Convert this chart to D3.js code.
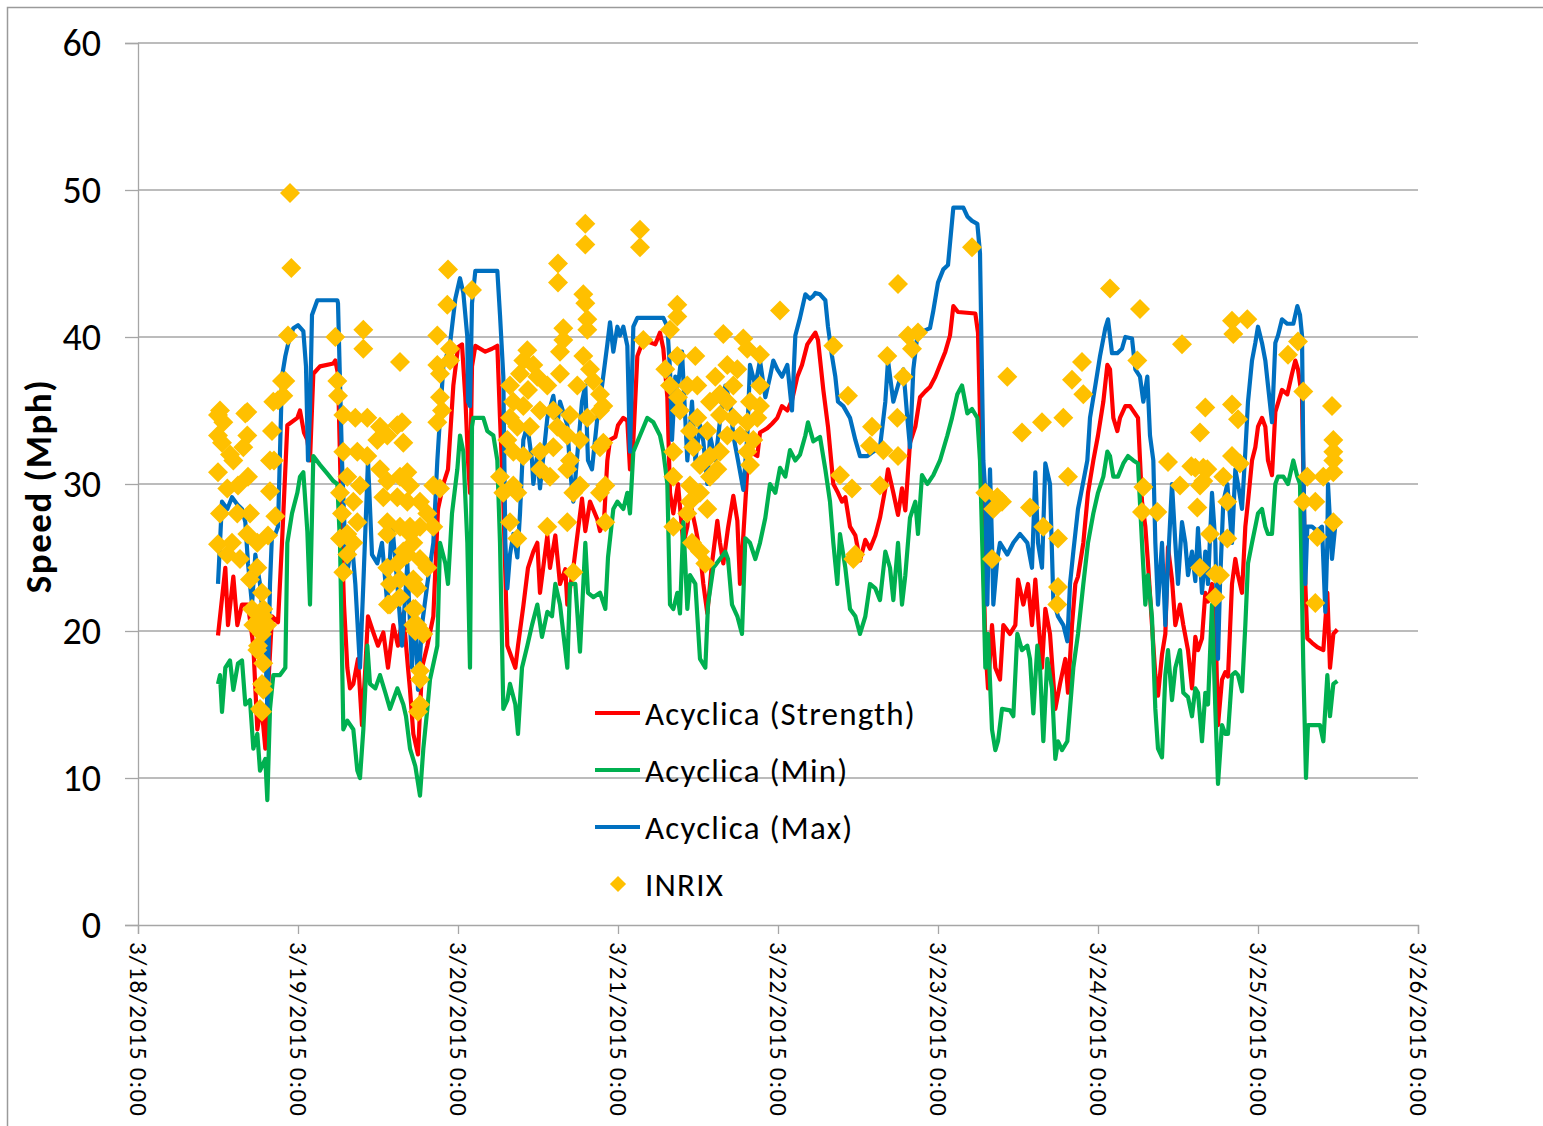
<!DOCTYPE html>
<html>
<head>
<meta charset="utf-8">
<script src="https://cdn.jsdelivr.net/npm/d3@7"></script>
<style>
  body { margin: 0; background: #fff; }
  svg { font-family: Carlito, Calibri, Lato, "Open Sans", sans-serif; }
</style>
</head>
<body>
<div id="main"></div>
<script>
// time values are hours after 3/18/2015 12:00
var seriesNames = ["Acyclica (Strength)", "Acyclica (Min)", "Acyclica (Max)", "INRIX"];
var seriesColors = ["#FF0000", "#00B050", "#0070C0", "#FFC000"];
var yTicks = [0, 10, 20, 30, 40, 50, 60];
var tickLabels = ["3/18/2015 0:00", "3/19/2015 0:00", "3/20/2015 0:00", "3/21/2015 0:00",
  "3/22/2015 0:00", "3/23/2015 0:00", "3/24/2015 0:00", "3/25/2015 0:00", "3/26/2015 0:00"];

var strength = [[0,19.7],[1.1,24.3],[1.5,20.4],[2.3,23.7],[2.9,20.4],[3.6,21.8],[4.5,21.8],[5.3,19],[5.9,13.3],[6.5,15],[7.1,12],[7.5,16],[8.1,21],[9.0,20.6],[9.6,26],[10.4,34],[11.9,34.5],[12.3,35],[12.9,33.5],[13.4,33],[13.8,31.6],[14.3,37.5],[15.3,38],[17.3,38.2],[17.6,38.4],[18.0,37.5],[18.6,26],[18.9,21.8],[19.4,17.5],[19.8,16.1],[20.3,16.4],[21.0,18.1],[21.6,13.6],[22.1,17.5],[22.5,21],[23.3,19.9],[24.0,19],[24.8,19.9],[25.5,17.5],[26.3,20.4],[27.0,19],[27.8,21.2],[28.5,17.5],[28.8,16],[29.3,13],[30.0,11.6],[30.6,17.5],[31.4,19],[32.3,21],[33.0,28.3],[33.8,30],[34.5,31],[35.3,36.7],[36.0,39.3],[36.6,39.5],[37.1,35.9],[37.5,31.6],[37.8,29.4],[38.1,38],[38.6,39.4],[40.1,39],[41.1,39.2],[41.9,39.4],[42.3,34.5],[42.8,28.8],[43.4,19],[43.8,18.5],[44.6,17.5],[45.0,19],[45.8,21.7],[46.5,24.3],[47.3,25.4],[47.9,26],[48.3,22.6],[49.4,26.5],[49.8,24.3],[50.6,26.5],[51.3,23.2],[52.1,24.2],[52.4,21.8],[53.3,24.3],[53.9,26.5],[54.6,29],[55.1,26.8],[55.8,28.8],[56.9,27.6],[57.3,26.8],[57.9,27.5],[58.4,31.6],[58.8,33],[59.6,33.2],[60.0,34],[60.8,34.5],[61.4,34.3],[61.8,31],[62.3,33],[62.9,38.7],[63.8,39.8],[65.6,39.5],[66.3,40.3],[66.8,39.2],[67.4,35.9],[67.8,29.4],[68.3,28],[69.0,30],[69.8,25.9],[70.4,27.1],[70.8,28.8],[71.6,27.1],[72.3,25.4],[72.8,23.2],[73.4,21.2],[74.1,24.6],[74.9,27.5],[75.3,26],[75.8,24.6],[76.5,27],[77.3,29.2],[77.9,27.5],[78.3,23.2],[78.8,26.5],[79.4,31],[79.8,32.2],[80.9,31.9],[81.3,33.5],[82.4,33.8],[83.1,34.1],[83.9,34.5],[84.6,35.3],[85.4,35],[86.1,35.7],[86.9,37.3],[87.6,38.1],[88.4,39.5],[89.3,40.1],[89.6,40.3],[90.0,39.8],[90.8,36.4],[91.5,33.9],[92.3,30],[93.0,29.4],[93.6,28.8],[94.1,29.1],[94.8,27.1],[95.6,26.5],[96.3,24.8],[97.1,26.2],[97.8,25.6],[98.6,26.5],[99.3,27.7],[100.1,29.7],[100.5,31],[101.3,29.4],[102.0,27.9],[102.6,29.7],[103.1,28.2],[103.8,32.8],[104.6,33.9],[105.3,35.9],[106.1,36.3],[106.8,36.6],[107.6,37.3],[108.3,38.1],[109.1,39],[109.8,40.1],[110.3,42.1],[111.0,41.7],[113.6,41.6],[114.0,40.3],[114.6,29],[115.1,19],[115.5,16.1],[116.1,20.4],[116.6,17.5],[117.3,16.7],[117.8,20.4],[118.8,19.8],[119.6,20.4],[120.0,23.5],[120.8,21.8],[121.5,23.2],[122.1,20.4],[122.6,23.5],[123.0,21],[123.6,17.5],[124.1,21.5],[124.8,19.8],[125.6,14.7],[126.3,16.4],[127.1,18.1],[127.5,15.8],[128.1,20.4],[128.6,23.2],[129.0,23.7],[129.8,26],[130.5,29.4],[131.3,31.6],[132.0,33.3],[132.8,35.6],[133.4,38.1],[133.8,37.8],[134.3,34.5],[134.9,33.6],[135.3,34.5],[136.1,35.3],[136.8,35.3],[138.0,34.5],[138.6,28.8],[139.1,27.1],[139.5,24.6],[140.1,20.4],[140.6,17],[141.0,15.6],[141.6,18.4],[142.1,19.8],[142.5,25.7],[143.1,23.5],[143.6,20.4],[144.3,21.8],[144.8,20.4],[145.5,18.7],[146.1,16.1],[146.6,19.6],[147.0,18.7],[147.6,19.5],[148.1,22.6],[148.5,22],[149.1,23.2],[149.6,21],[150.0,13.6],[150.6,16.7],[151.1,17.2],[151.5,16.9],[152.1,23.2],[152.6,24.9],[153.0,23.8],[153.6,22.6],[154.1,27.1],[154.5,28.8],[155.1,31.6],[155.6,32.5],[156.0,33.9],[156.6,34.5],[157.1,33.9],[157.5,31.6],[158.1,30.6],[158.6,34.9],[159.0,35.5],[159.6,36.4],[160.4,36.1],[161.1,37.5],[161.6,38.4],[162.0,37.8],[162.6,35.9],[163.1,23.2],[163.4,19.5],[164.1,19.2],[164.9,18.9],[165.8,18.7],[166.4,22.6],[166.8,17.5],[167.3,19.8],[167.9,20.1]];

var minSpeed = [[0,16.4],[0.3,17],[0.6,14.5],[1.1,17.5],[1.8,18],[2.3,16],[3.0,17.8],[3.6,18],[4.1,15],[4.8,15.3],[5.3,12],[5.9,13],[6.3,10.5],[7.1,11.3],[7.4,8.5],[7.8,14.7],[8.3,17],[9.3,17],[10.1,17.5],[10.4,26],[11.1,28],[11.9,29.4],[12.3,30.5],[12.8,30.8],[13.4,26.8],[13.8,21.8],[14.3,31.9],[15.3,31.3],[16.4,30.7],[17.3,30.2],[17.9,30],[18.3,26],[18.8,13.3],[19.4,13.9],[20.3,13.3],[20.9,10.5],[21.3,10],[21.8,13.3],[22.4,19],[22.8,16.4],[23.6,16.1],[24.3,17],[25.1,15.8],[25.8,14.7],[26.9,16.1],[27.8,15],[28.2,14.2],[28.8,12],[29.6,10.8],[30.3,8.8],[30.8,12],[31.4,14.7],[31.8,16.7],[32.9,19],[33.3,26],[34.1,24.6],[34.5,23.2],[35.1,28],[35.9,31],[36.3,33.3],[36.8,32.2],[37.4,26],[37.8,17.5],[38.1,33.9],[38.3,34.5],[39.8,34.5],[40.4,33.6],[41.3,33.3],[41.9,31.6],[42.3,26],[42.8,14.7],[43.4,15.3],[43.8,16.4],[44.6,15],[45.0,13],[45.6,17.5],[46.4,19],[47.1,20.4],[47.9,21.8],[48.6,19.6],[49.4,21.3],[50.1,21],[50.6,23.2],[51.3,21.8],[52.4,17.5],[52.8,23.2],[53.6,23.2],[54.3,18.6],[55.1,26],[55.5,22.6],[56.3,22.3],[57.3,22.6],[58.1,21.5],[58.5,25],[59.3,28.3],[59.9,28.8],[60.8,28.3],[61.4,29.4],[61.8,28],[62.3,32.2],[63.3,33.3],[64.4,34.5],[65.3,34.2],[66.3,33.3],[66.8,32.2],[67.4,30],[67.8,21.8],[68.3,21.5],[68.9,22.6],[69.3,21.2],[69.8,27.4],[70.4,21.5],[70.8,23.8],[71.6,23.2],[72.3,18.1],[73.1,17.5],[73.5,21.8],[74.3,24.3],[75.3,24.9],[76.1,25.4],[76.5,24.9],[77.1,21.8],[77.9,21],[78.6,19.8],[79.1,26.3],[79.8,26],[80.6,24.9],[81.3,26],[82.1,27.7],[82.8,30],[83.6,29.4],[84.3,31.1],[85.1,30.5],[85.8,32.3],[86.6,31.6],[87.3,32],[88.1,33.3],[88.5,34.2],[89.3,32.9],[90.3,33.2],[91.1,31],[91.8,28.8],[92.3,26],[92.9,23.2],[93.3,26.6],[94.1,24.3],[94.8,21.5],[95.6,21],[96.3,19.8],[97.1,21],[97.8,23.2],[98.6,22.9],[99.3,22.1],[100.1,25.4],[100.8,24.3],[101.3,22.1],[102.0,26],[102.6,21.8],[103.1,23.8],[103.8,27.7],[104.6,28.8],[105.0,26.6],[105.6,30.6],[106.4,30],[107.3,30.6],[108.3,31.6],[109.4,33.3],[110.1,34.5],[110.9,36.1],[111.6,36.7],[112.4,34.8],[113.1,35.1],[113.9,34.5],[114.3,31.6],[114.8,23.2],[115.1,17.5],[115.5,19.8],[116.1,13.3],[116.6,11.9],[117.0,12.5],[117.6,14.7],[118.8,14.6],[119.3,14.2],[119.9,19.8],[120.6,18.7],[121.4,19],[121.8,18.1],[122.3,14.4],[122.9,19],[123.3,17.5],[123.8,12.5],[124.4,18.1],[125.1,16.1],[125.6,11.3],[126.0,12.5],[126.6,11.9],[127.4,12.5],[127.8,14.7],[128.3,17.5],[129.0,19.8],[129.8,23.2],[130.5,26],[131.3,28],[132.0,29.4],[132.8,30.5],[133.4,32.2],[133.8,31.9],[134.3,30.5],[135.0,30.5],[135.8,31.4],[136.5,31.9],[137.3,31.6],[138.0,31.4],[138.6,26],[139.1,21.8],[139.5,23.8],[140.1,20.9],[140.6,14.7],[141.0,12],[141.6,11.4],[142.1,17],[142.5,18.7],[143.1,15.3],[143.6,17.5],[144.3,18.7],[144.8,15.8],[145.5,15.5],[146.1,14.2],[146.6,16.1],[147.0,15.8],[147.6,12.5],[148.1,15.8],[148.5,15],[149.1,21.8],[149.6,14.7],[150.0,9.6],[150.6,13.6],[151.1,13],[151.5,13],[152.1,17],[152.6,17.2],[153.0,17],[153.6,15.9],[154.1,20.4],[154.5,24.6],[155.1,26],[155.6,27.1],[156.0,28],[156.6,28.3],[157.1,27.1],[157.5,26.6],[158.1,26.6],[158.6,30],[159.0,30.5],[159.8,30.5],[160.5,30],[161.3,31.6],[161.9,30.5],[162.3,30],[162.8,17.5],[163.2,10],[163.5,13.6],[164.3,13.6],[165.3,13.6],[165.8,12.5],[166.4,17],[166.8,14.2],[167.3,16.4],[167.9,16.6]];

var maxSpeed = [[0,23.2],[0.6,28.8],[1.4,28.3],[2.1,29.1],[2.9,28.6],[3.6,28.3],[4.1,27.4],[4.5,24.6],[5.1,21.8],[5.6,25.2],[6.3,23.2],[7.1,19],[7.4,14.7],[7.8,23.2],[8.1,26.6],[8.6,26.6],[9.0,27.1],[9.6,37.3],[10.1,38.7],[10.5,39.5],[11.3,40.6],[12.0,40.8],[12.8,40.4],[13.2,38],[13.5,31.6],[13.8,35],[14.1,41.5],[14.9,42.5],[17.9,42.5],[18.0,42.3],[18.6,31.6],[19.1,25.4],[19.5,24.3],[20.1,26],[20.6,23.2],[21.3,17.5],[21.8,23.2],[22.5,31.6],[23.1,25.2],[23.9,24.6],[24.6,26],[25.4,21.8],[26.1,27.4],[26.9,23.2],[27.6,19],[28.4,24.6],[29.1,17.5],[29.6,21.8],[30.0,16],[30.6,20.4],[31.4,23.2],[32.3,26],[32.9,31.6],[33.3,34.5],[33.8,38],[34.8,39.5],[35.6,42.6],[36.3,44],[36.8,43],[37.4,40],[37.5,35.6],[37.8,35.3],[38.1,42.3],[38.6,44.5],[41.9,44.5],[42.3,41.5],[42.8,37.3],[43.1,26],[43.4,22.9],[43.8,25.2],[44.3,26.6],[44.9,25],[45.3,28],[45.8,33],[46.4,34],[47.1,31.6],[47.3,30],[47.9,32],[48.3,29.7],[49.4,34.5],[50.3,36],[50.9,34],[51.3,35.6],[52.4,34],[52.8,31],[53.3,28.8],[53.9,32],[54.6,35.6],[55.1,36.7],[55.5,31.6],[56.1,31],[56.9,34.5],[57.3,35.6],[58.4,39.5],[58.8,41],[59.3,39],[59.9,40.7],[60.3,40.1],[60.8,40.7],[61.4,39.4],[61.8,32.2],[62.3,40.7],[62.9,41.3],[66.8,41.3],[67.4,40.7],[67.8,37.8],[68.1,33],[68.6,37.3],[69.0,36.7],[69.6,39],[70.4,31.6],[71.1,35.6],[71.6,31.6],[72.3,34],[72.8,32.9],[73.4,30],[73.8,33.3],[74.6,31.6],[75.3,34.3],[76.1,36.7],[76.8,35.6],[77.3,33.3],[78.0,31.6],[78.8,29.6],[79.4,33.3],[79.8,38.1],[80.6,36.7],[81.3,38.4],[82.1,35.9],[82.8,37.3],[83.3,38.4],[83.9,37.8],[84.6,37.3],[85.4,38.1],[86.1,35],[86.6,40.1],[87.3,41.3],[88.1,42.9],[88.8,42.6],[89.3,42.8],[89.6,43],[90.3,42.9],[91.1,42.5],[91.5,40.7],[92.1,38.7],[92.6,37.3],[93.0,35.6],[93.8,35.3],[94.8,34.5],[95.6,33],[96.3,31.9],[97.4,31.9],[98.3,32.2],[99.3,32.5],[100.1,35.6],[100.5,38.4],[101.3,35.6],[102.0,36.7],[102.8,37.8],[103.4,34.5],[103.8,32.5],[104.3,37.8],[104.9,40.1],[105.8,40.4],[106.8,40.6],[107.3,41.8],[108.0,43.7],[108.8,44.6],[109.5,44.9],[110.3,48.8],[111.8,48.8],[112.4,48.2],[113.1,47.9],[113.9,47.7],[114.3,45.7],[114.6,37.3],[114.8,31.6],[115.1,29.4],[115.4,21.8],[115.8,31],[116.1,26],[116.3,21.8],[116.9,24.9],[117.3,26],[118.4,25.2],[119.3,26],[120.3,26.6],[121.4,26],[122.1,24.3],[122.6,30.8],[123.0,26],[123.6,24.3],[124.1,31.4],[124.8,30],[125.3,22.1],[126.0,21],[126.8,20.4],[127.4,19.3],[127.8,23.2],[128.3,25.4],[129.0,28.3],[129.6,29.7],[130.4,31.6],[130.8,34.5],[131.6,36.7],[132.3,38.7],[133.1,40.6],[133.5,41.2],[134.1,38.9],[134.9,38.9],[135.6,39.2],[136.1,40],[137.1,39.9],[137.6,37.8],[138.3,37.3],[138.8,35.6],[139.4,37.3],[139.8,33.3],[140.3,31.6],[140.6,26],[141.0,21.8],[141.6,26],[142.1,20.4],[142.5,24.6],[143.1,30],[143.6,26],[144.0,23.2],[144.6,27.4],[145.1,26],[145.5,23.8],[146.1,25.4],[146.6,23.4],[147.0,27],[147.6,22.6],[148.1,25.4],[148.5,23.2],[149.1,29.4],[149.6,26],[150.0,18.1],[150.3,23.2],[150.8,28.8],[151.4,30],[152.1,26],[152.6,31],[153.0,30],[153.6,28.3],[154.1,32.2],[154.5,35.6],[155.1,38.4],[155.6,39.6],[156.0,40.7],[156.6,39.6],[157.1,38.4],[157.5,36.7],[158.1,34.2],[158.6,39.6],[159.0,40.1],[159.6,41.2],[160.4,40.9],[161.3,40.9],[161.9,42.1],[162.3,41.5],[162.6,40.1],[162.8,31.6],[163.1,23.2],[163.4,27.1],[164.1,27.1],[164.9,26.8],[165.6,27.1],[166.1,21.3],[166.4,26],[166.5,30],[167.1,24.9],[167.6,27.2],[167.9,27.7]];

var inrix = [[0,33.3],[0,30.8],[0,25.9],[0,34.7],[0.3,35],[0.3,28],[0.6,32.8],[0.8,34.2],[1.4,29.7],[1.4,25.2],[1.8,32],[2.1,26],[2.3,31.6],[2.9,28],[3.0,29.9],[3.3,24.9],[3.8,32.5],[4.1,34.8],[4.4,34.9],[4.4,33.3],[4.4,26.6],[4.5,30.5],[4.8,28],[4.8,23.5],[5.1,21.5],[5.3,20.4],[5.9,26],[5.9,24.3],[5.9,18.7],[6.0,19],[6.0,20.7],[6.3,14.7],[6.6,22.6],[6.6,19.8],[6.6,16.4],[6.6,14.5],[6.8,21.5],[6.8,21],[6.8,17.8],[6.8,16],[7.4,20.4],[7.5,26.5],[7.8,29.5],[7.8,31.6],[8.1,33.6],[8.3,35.6],[8.4,31.6],[8.6,27.8],[9.0,35.7],[9.6,37],[9.8,36],[10.1,37],[10.5,40.1],[10.8,49.8],[11.0,44.7],
  [17.6,40],[17.9,37],[18.0,36],[18.3,29.4],[18.3,26.3],[18.6,28],[18.8,34.7],[18.8,32.2],[18.8,24],[19.4,30.5],[19.4,26.6],[19.4,25.2],[20.3,28.8],[20.3,26],[20.6,34.5],[20.9,32.2],[20.9,27.4],[21.3,29.9],[21.8,40.5],[21.8,39.2],[22.4,34.5],[22.4,31.9],[23.9,33],[24.3,33.9],[24.3,31],[24.8,29.1],[25.4,33.3],[25.4,30.2],[25.4,27.4],[25.4,26.6],[25.4,24.3],[25.5,21.8],[25.8,23.2],[25.8,21.8],[26.9,34],[26.9,29.1],[26.9,24.6],[27.3,38.3],[27.3,30.5],[27.3,27.1],[27.3,23.5],[27.3,22.3],[27.6,34.2],[27.8,32.8],[27.8,25.4],[28.4,28.8],[28.4,30.8],[28.4,25.2],[28.8,29.9],[28.8,26.6],[28.8,27.1],[29.3,23.2],[29.3,26],[29.3,23.5],[29.3,21.5],[29.3,20.4],[29.6,21.5],[29.6,20],[29.9,20.4],[29.9,22.9],[30.0,14.5],[30.3,28.8],[30.3,27.1],[30.3,24.9],[30.3,20.1],[30.3,17.3],[30.3,16.7],[30.3,15],[30.8,19.8],[31.4,28],[31.4,24.3],[32.3,29.9],[32.3,27.1],[32.9,40.1],[32.9,38.1],[32.9,34.2],[33.3,37.5],[33.3,35.9],[33.3,29.7],[33.6,35],[34.4,42.2],[34.5,44.6],[34.8,39.2],[34.8,38.4],[38.1,43.2],
  [42.3,30.5],[42.8,29.4],[43.4,33],[43.8,36.7],[43.8,34.5],[43.8,27.4],[44.3,35.6],[44.3,32.2],[44.3,29.9],[44.9,33.9],[44.9,29.4],[44.9,26.3],[45.3,37.5],[45.8,38.4],[45.8,35.3],[45.8,31.9],[46.4,39.1],[46.5,36.4],[46.8,33.9],[47.3,38.1],[47.9,37.3],[48.3,35],[48.3,32.2],[48.3,31],[49.4,36.7],[49.4,27.1],[49.8,30.5],[50.3,35],[50.3,32.5],[50.9,33.9],[51.0,45],[51.0,43.7],[51.3,39],[51.3,37.5],[51.8,40.6],[51.8,39.8],[52.4,33.3],[52.4,31],[52.4,27.4],[52.8,34.7],[52.8,31.6],[53.3,29.4],[53.3,24],[53.9,36.7],[54.3,33],[54.3,29.9],[54.8,42.9],[54.8,38.7],[55.1,47.7],[55.1,46.3],[55.1,42.3],[55.4,41.2],[55.4,40.5],[55.4,34.5],[55.8,37.8],[56.3,37],[57.3,36.1],[57.3,35],[57.3,32.5],[57.3,29.4],[57.8,35.3],[57.8,32.8],[58.1,29.9],[58.1,27.4],
  [63.3,47.3],[63.3,46.1],[63.8,39.8],[67.1,37.8],[67.8,40.5],[67.8,36.7],[68.3,32.2],[68.3,30.5],[68.3,27.1],[68.9,42.2],[68.9,41.4],[68.9,38.7],[69.0,35.9],[69.3,35],[70.4,36.7],[70.4,28],[70.8,33.6],[70.8,29.9],[70.8,28.8],[71.1,26],[71.3,32.5],[71.6,38.7],[71.9,36.7],[71.9,34.5],[72.3,31.3],[72.3,29.4],[72.3,25.4],[73.1,24.6],[73.4,33.6],[73.4,28.3],[73.8,35.6],[73.8,31.9],[73.8,30.5],[74.6,37.3],[74.9,31],[75.3,36.1],[75.3,34.7],[75.3,32.2],[75.8,40.2],[76.4,38.1],[76.4,35.6],[76.4,33.3],[77.3,36.7],[77.3,34.5],[77.9,37.8],[78.3,33.3],[78.8,39.9],[79.4,39.2],[79.4,34.2],[79.4,32.2],[79.8,35.6],[79.8,31.3],[80.3,33],[80.9,34.5],[81.3,38.8],[81.3,36.7],[81.3,35.3],[84.3,41.8],
  [92.3,39.4],[93.3,30.6],[94.5,36],[95.1,29.7],[95.3,24.9],[95.6,25.2],[97.8,32.6],[98.1,33.9],[99.3,29.9],[99.8,32.3],[100.4,38.7],[101.9,34.5],[102.0,31.9],[102.0,43.6],[102.8,37.3],[103.5,40.1],[104.1,39.2],[105.0,40.3],[113.1,46.1],
  [115.1,29.4],[116.1,24.9],[116.3,28.3],[116.9,29.1],[117.6,28.8],[118.4,37.3],[120.6,33.5],[121.8,28.4],[123.6,34.2],[123.8,27.1],[125.9,21.8],[126.0,26.3],[126.0,23],[126.8,34.5],[127.5,30.5],[128.1,37.1],[129.6,38.3],[129.8,36.1],[133.8,43.3],[137.9,38.4],[138.3,41.9],[138.6,28.1],[138.8,29.8],[140.9,28.1],[142.5,31.5],[144.3,29.9],[144.6,39.5],[146.0,31.2],[146.6,31.1],[146.9,28.4],[147.3,33.5],[147.3,29.9],[147.3,24.3],[147.8,31.1],[147.8,30.2],[148.1,35.2],[148.4,31],[148.8,26.6],[149.6,23.9],[149.6,22.3],[150.3,23.8],[150.8,30.5],[151.4,28.8],[151.4,26.3],[152.1,41.1],[152.1,35.4],[152.1,31.9],[152.3,40.2],[153.0,34.4],[153.3,31.4],[154.4,41.2],
  [160.5,38.8],[162.0,39.7],[162.8,36.3],[162.8,28.8],[163.4,30.5],[164.6,28.8],[164.6,21.9],[164.9,26.4],[165.8,30.5],[167.1,35.3],[167.3,33],[167.3,32.2],[167.3,31.6],[167.3,30.8],[167.3,27.4]];

var width = 1543, height = 1126;
var t0 = new Date(2015, 2, 18, 12, 0);
function when(h) { return new Date(t0.getTime() + h * 3600e3); }

var x = d3.scaleTime()
  .domain([new Date(2015, 2, 18), new Date(2015, 2, 26)])
  .range([138, 1418]);
var y = d3.scaleLinear().domain([0, 60]).range([925, 43]);

var svg = d3.select("#main").append("svg")
  .attr("width", width)
  .attr("height", height);

// outer frame (left and top edges visible)
svg.append("path")
  .attr("d", "M7.5," + height + "V7.5H" + width)
  .attr("fill", "none")
  .attr("stroke", "#9a9a9a")
  .attr("stroke-width", 1.5);

// gridlines
svg.append("g").selectAll("line")
  .data(yTicks.slice(1))
  .enter().append("line")
  .attr("x1", 138).attr("x2", 1418)
  .attr("y1", function (d) { return y(d); })
  .attr("y2", function (d) { return y(d); })
  .attr("stroke", "#a6a6a6")
  .attr("stroke-width", 1.3);

var yAxis = svg.append("g")
  .attr("transform", "translate(138,0)")
  .call(d3.axisLeft(y).tickValues(yTicks).tickSize(13).tickPadding(24));
yAxis.select(".domain").attr("stroke", "#a6a6a6").attr("stroke-width", 1.3);
yAxis.selectAll(".tick line").attr("stroke", "#a6a6a6").attr("stroke-width", 1.3);
yAxis.selectAll("text")
  .attr("font-size", 38)
  .attr("font-family", "Carlito, Calibri, Lato, sans-serif")
  .attr("fill", "#000");

var days = d3.timeDay.range(new Date(2015, 2, 18), new Date(2015, 2, 26, 1));
var xAxis = svg.append("g")
  .attr("transform", "translate(0,925)")
  .call(d3.axisBottom(x).tickValues(days).tickSize(9)
    .tickFormat(function (d, i) { return tickLabels[i]; }));
xAxis.select(".domain").attr("stroke", "#a6a6a6").attr("stroke-width", 1.3);
xAxis.selectAll(".tick line").attr("stroke", "#a6a6a6").attr("stroke-width", 1.3);
xAxis.selectAll("text")
  .attr("transform", "rotate(90)")
  .attr("x", 17).attr("y", 0).attr("dy", "0.35em")
  .attr("text-anchor", "start")
  .attr("font-size", 25)
  .attr("letter-spacing", 1.2)
  .attr("font-family", "Carlito, Calibri, Lato, sans-serif")
  .attr("fill", "#000");

// axis title
svg.append("text")
  .attr("transform", "translate(51,486) rotate(-90)")
  .attr("text-anchor", "middle")
  .attr("font-size", 37)
  .attr("font-weight", "bold")
  .attr("letter-spacing", 1.5)
  .text("Speed (Mph)");

var line = d3.line()
  .x(function (d) { return x(when(d[0])); })
  .y(function (d) { return y(d[1]); });

[strength, minSpeed, maxSpeed].forEach(function (s, i) {
  svg.append("path")
    .datum(s)
    .attr("d", line)
    .attr("fill", "none")
    .attr("stroke", seriesColors[i])
    .attr("stroke-width", 4.2)
    .attr("stroke-linejoin", "round");
});

var diamond = d3.symbol().type(d3.symbolSquare).size(200);
svg.append("g").selectAll("path")
  .data(inrix)
  .enter().append("path")
  .attr("d", diamond)
  .attr("transform", function (d) {
    return "translate(" + x(when(d[0])) + "," + y(d[1]) + ") rotate(45)";
  })
  .attr("fill", seriesColors[3]);

// legend
var legend = svg.append("g").selectAll("g")
  .data(seriesNames)
  .enter().append("g")
  .attr("transform", function (d, i) { return "translate(595," + (713 + i * 57) + ")"; });
legend.filter(function (d, i) { return i < 3; })
  .append("line")
  .attr("x1", 0).attr("x2", 45)
  .attr("stroke", function (d, i) { return seriesColors[i]; })
  .attr("stroke-width", 4.2);
legend.filter(function (d, i) { return i == 3; })
  .append("path")
  .attr("d", d3.symbol().type(d3.symbolSquare).size(130))
  .attr("transform", "translate(23,0) rotate(45)")
  .attr("fill", seriesColors[3]);
legend.append("text")
  .attr("x", 50).attr("dy", "0.35em")
  .attr("font-size", 33)
  .attr("letter-spacing", 1.2)
  .text(function (d) { return d; });
</script>
</body>
</html>
